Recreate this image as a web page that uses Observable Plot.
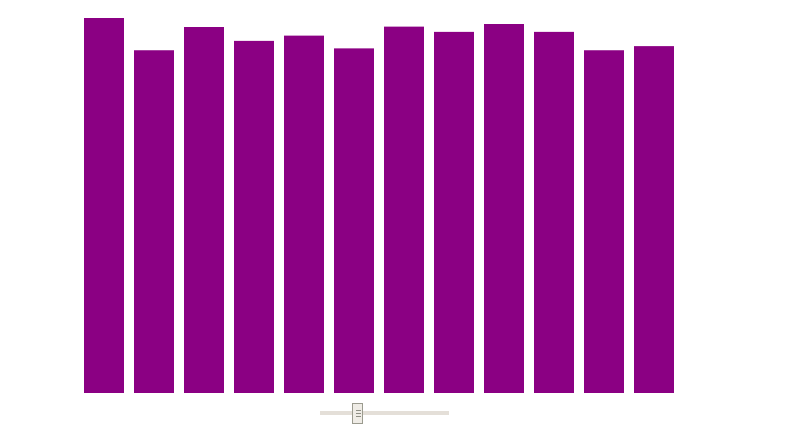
<!DOCTYPE html>
<html>
<head>
<meta charset="utf-8">
<script src="https://cdn.jsdelivr.net/npm/d3@7"></script>
<script src="https://cdn.jsdelivr.net/npm/@observablehq/plot@0.6"></script>
<style>
  html, body { margin: 0; padding: 0; background: #fff; }
  #wrap { position: relative; width: 795px; height: 424px; }
  #chart svg { display: block; }
  .track { position: absolute; left: 320px; top: 411px; width: 129px; height: 4px; background: #e4dfd8; }
  .thumb { position: absolute; left: 352px; top: 403px; width: 9px; height: 19px; background: #efece6; border: 1px solid #9b9b8f; box-sizing: content-box; }
  .grip { position: absolute; left: 2.5px; width: 5px; height: 1px; background: #8e8e84; }
</style>
</head>
<body>
<div id="wrap">
  <div id="chart"></div>
  <div class="track"></div>
  <div class="thumb">
    <div class="grip" style="top:6px"></div>
    <div class="grip" style="top:9px"></div>
    <div class="grip" style="top:12px"></div>
  </div>
</div>
<script>
const categories = ["1","2","3","4","5","6","7","8","9","10","11","12"];
const values = [100, 91.4, 97.6, 93.9, 95.3, 91.9, 97.7, 96.3, 98.4, 96.3, 91.4, 92.5];

const data = categories.map((c, i) => ({category: c, value: values[i]}));

const chart = Plot.plot({
  width: 795,
  height: 400,
  marginLeft: 74,
  marginRight: 111,
  marginTop: 18,
  marginBottom: 7,
  x: {domain: categories, paddingInner: 0.2, paddingOuter: 0.2, round: false, range: [74, 684], axis: null},
  y: {domain: [0, 100], axis: null},
  marks: [
    Plot.barY(data, {x: "category", y: "value", fill: "#8b0083"})
  ]
});
document.getElementById("chart").appendChild(chart);
</script>
</body>
</html>
